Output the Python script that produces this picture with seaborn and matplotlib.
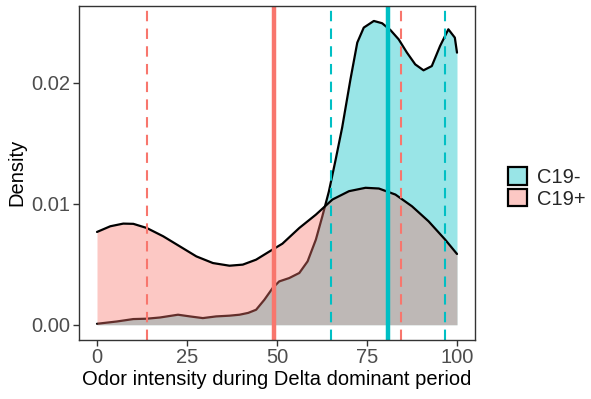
import matplotlib
matplotlib.use("Agg")
import matplotlib.pyplot as plt
import matplotlib.colors as mcolors
import seaborn as sns
import pandas as pd
from matplotlib.patches import Patch

sns.set_theme(style="white")
plt.rcParams['font.family'] = ['Liberation Sans', 'DejaVu Sans']

groups = ["C19-", "C19+"]
colors = {"C19-": "#00BFC4", "C19+": "#F8766D"}

# C19- density
neg_x = [0, 5.5, 10.1, 13.8, 17.5, 22.5, 25.8, 29.4, 33.1, 36.8, 39.6, 42.0, 44.2, 46.5,
         48.8, 50.6, 53.4, 56.2, 58.5, 60.8, 62.6, 64.4, 66.3, 68.1, 70.4,
         72.3, 74.1, 76.9, 79.2, 81.5, 83.8, 86.1, 88.4, 90.7, 93.0, 95.3, 97.6, 99.4, 100]
neg_d = [0.00008, 0.00027, 0.00047, 0.0005, 0.0006, 0.00083, 0.00069, 0.00055, 0.00069,
         0.00075, 0.00083, 0.00098, 0.00124, 0.00207, 0.00304, 0.00358, 0.00386, 0.00428,
         0.00524, 0.00704, 0.00897, 0.0110, 0.01366, 0.0163, 0.02028,
         0.02332, 0.02456, 0.02511, 0.02492, 0.02436, 0.02359, 0.02249, 0.02152, 0.02103,
         0.02138, 0.02304, 0.02442, 0.02373, 0.02249]

# C19+ density
pos_x = [0, 3.7, 7.3, 10.1, 13.8, 18.4, 23.0, 27.6, 32.2, 36.8, 40.5, 44.2, 48.3,
         51.5, 56.2, 60.8, 65.4, 70.0, 74.6, 78.3, 82.9, 87.5, 92.1, 96.7, 100]
pos_d = [0.00767, 0.00814, 0.00836, 0.00834, 0.0080, 0.00731, 0.00648, 0.00565, 0.0051,
         0.00488, 0.00497, 0.00538, 0.00613, 0.0067, 0.0080, 0.0091, 0.01035, 0.01104,
         0.01132, 0.01126, 0.01076, 0.00979, 0.00855, 0.00704, 0.00585]

medians = {"C19-": 80.7, "C19+": 49.1}
quartiles = {"C19-": [64.9, 96.7], "C19+": [13.8, 84.4]}

curves = {"C19-": (neg_x, neg_d), "C19+": (pos_x, pos_d)}

fig = plt.figure(figsize=(5.91, 3.99), dpi=100)
ax = fig.add_axes([79/591, 1-340/399, (475-79)/591, (340-5.7)/399])

z = 1.0
for g in groups:
    xs, ds = curves[g]
    df = pd.DataFrame({"x": xs, "d": ds})
    ax.fill_between(df["x"], 0, df["d"], color=colors[g], alpha=0.4, linewidth=0, zorder=z)
    sns.lineplot(data=df, x="x", y="d", color="black", linewidth=1.6, ax=ax,
                 sort=False, estimator=None, zorder=z + 0.1)
    z += 0.2

for g in groups:
    ax.axvline(medians[g], color=colors[g], linewidth=3.2, zorder=3)
    for q in quartiles[g]:
        ax.axvline(q, color=colors[g], linewidth=1.5, dashes=(5, 3.5), zorder=3)

ax.set_xlim(-5, 105)
ax.set_ylim(-0.00126, 0.02637)
ax.set_xticks([0, 25, 50, 75, 100])
ax.set_yticks([0.0, 0.01, 0.02])
ax.set_yticklabels(["0.00", "0.01", "0.02"])
ax.tick_params(axis="both", which="both", length=4, width=1, color="#333333",
               labelsize=14.5, labelcolor="#4D4D4D", pad=2, bottom=True, left=True)
for s in ax.spines.values():
    s.set_color("#333333")
    s.set_linewidth(1.0)
    s.set_zorder(4)
ax.set_xlabel("Odor intensity during Delta dominant period", fontsize=14.5, color="black", labelpad=2)
ax.set_ylabel("Density", fontsize=14.5, color="black", labelpad=4)
ax.grid(False)

handles = [Patch(facecolor=mcolors.to_rgba(colors[g], 0.4), edgecolor="black",
                 linewidth=1.6, label=g) for g in groups]
leg = fig.legend(handles=handles, loc="center left", bbox_to_anchor=(500/591, 1-188/399),
                 frameon=False, fontsize=14.5, handlelength=0.95, handleheight=0.95,
                 handletextpad=0.5, labelspacing=0.1, borderaxespad=0)

fig.savefig("out.png", dpi=100)
